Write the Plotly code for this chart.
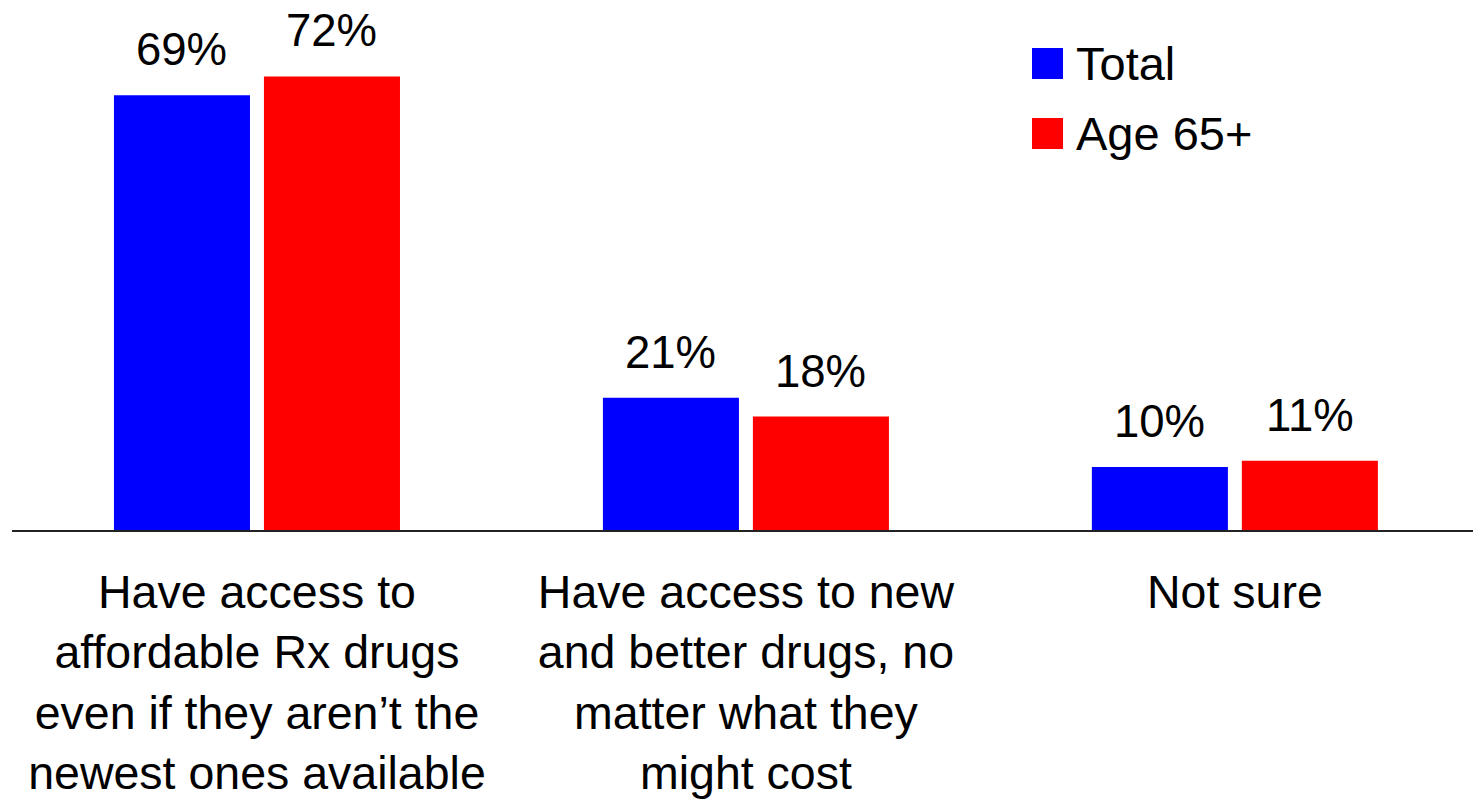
import plotly.graph_objects as go

# Survey responses: which matters more for seniors' prescription drugs
categories = ["affordable", "new_better", "not_sure"]
tick_labels = [
    "Have access to<br>affordable Rx drugs<br>even if they aren’t the<br>newest ones available",
    "Have access to new<br>and better drugs, no<br>matter what they<br>might cost",
    "Not sure",
]
series_names = ["Total", "Age 65+"]
total_values = [69, 21, 10]
age65_values = [72, 18, 11]

FONT = "Liberation Sans, Arial, sans-serif"
COLORS = ["#0000FF", "#FF0000"]
LABEL_FS = 45.5
TICK_FS = 46.5
LEGEND_FS = 47

fig = go.Figure()
for name, vals, col in zip(series_names, [total_values, age65_values], COLORS):
    fig.add_trace(go.Bar(
        x=categories, y=vals, name=name,
        marker=dict(color=col, line=dict(width=0)),
        showlegend=False, hoverinfo="skip",
    ))

# Value labels above each bar
annotations = []
for shift, vals in zip([-75, 75], [total_values, age65_values]):
    for cat, v in zip(categories, vals):
        annotations.append(dict(
            x=cat, y=v, xref="x", yref="y", xshift=shift, yshift=18,
            text=f"{v}%", showarrow=False, xanchor="center", yanchor="bottom",
            font=dict(family=FONT, size=LABEL_FS, color="black"),
        ))

# Legend drawn as squares with text
W, H = 1473, 802
L, B = 12, 272
PW, PH = W - L, H - B
def px(xp):
    return (xp - L) / PW
def py(yp):
    return 1 - yp / PH

shapes = []
for i, (name, col) in enumerate(zip(series_names, COLORS)):
    top = 48 + i * 70
    shapes.append(dict(
        type="rect", xref="paper", yref="paper",
        x0=px(1032), x1=px(1063), y0=py(top + 31), y1=py(top),
        fillcolor=col, line=dict(width=0),
    ))
    annotations.append(dict(
        x=px(1074), y=py(top + 15.5), xref="paper", yref="paper",
        text=name, showarrow=False, xanchor="left", yanchor="middle",
        font=dict(family=FONT, size=LEGEND_FS, color="black"),
    ))

fig.update_layout(
    width=W, height=H,
    margin=dict(l=L, r=0, t=0, b=B, pad=0),
    paper_bgcolor="white", plot_bgcolor="white",
    barmode="group", bargap=0.3865, bargroupgap=0.093,
    font=dict(family=FONT, size=TICK_FS, color="black"),
    annotations=annotations, shapes=shapes,
    showlegend=False,
)
fig.update_xaxes(
    type="category", range=[-0.501, 2.487],
    tickvals=categories, ticktext=tick_labels,
    tickfont=dict(family=FONT, size=TICK_FS, color="black"),
    showline=True, linecolor="#222222", linewidth=2,
    ticks="outside", ticklen=20, tickcolor="rgba(0,0,0,0)",
    showgrid=False, zeroline=False,
)
fig.update_yaxes(
    range=[0, PH / 6.3], visible=False, showgrid=False, zeroline=False,
)

fig.write_html("out.html")
